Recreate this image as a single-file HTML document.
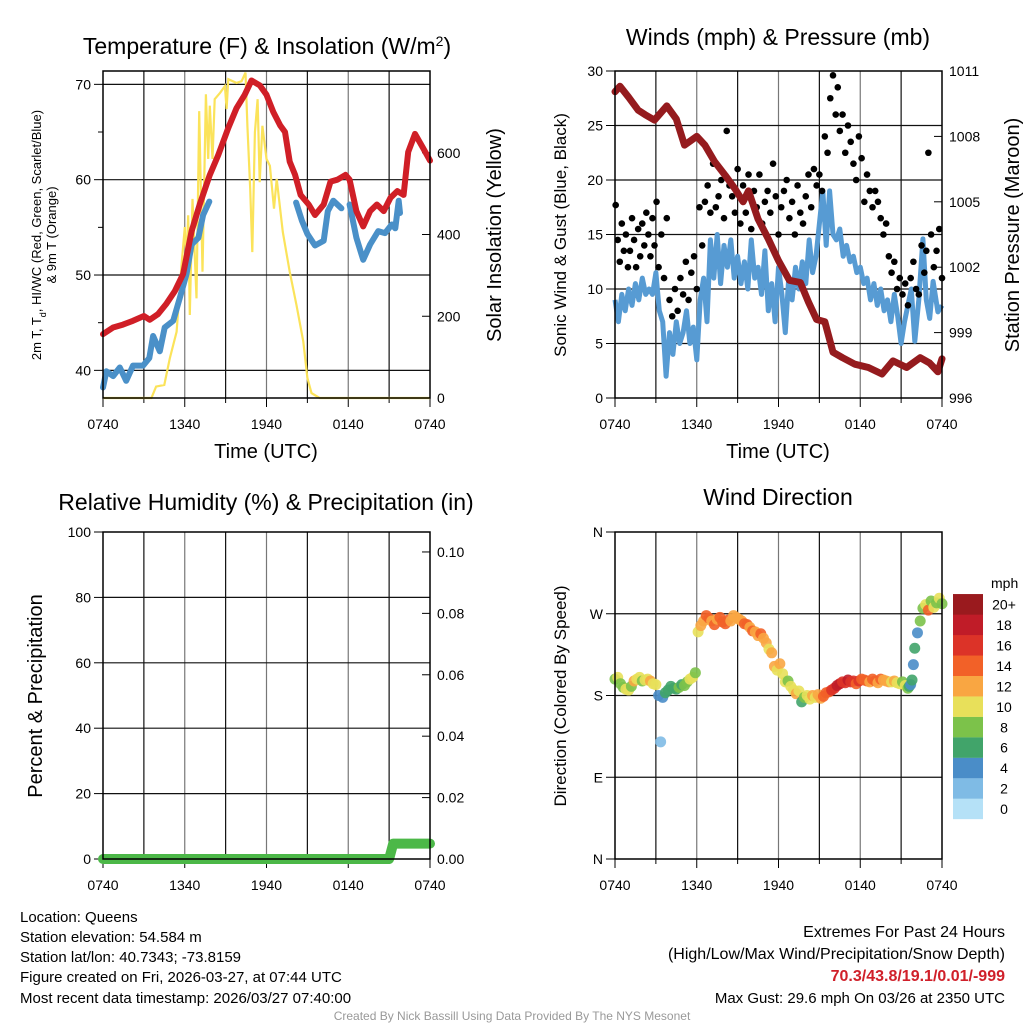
<!DOCTYPE html>
<html><head><meta charset="utf-8"><style>
html,body{margin:0;padding:0;background:#fff;}
svg{display:block;font-family:"Liberation Sans",Arial,sans-serif;}
</style></head><body>
<svg id="fig" width="1024" height="1024" viewBox="0 0 1024 1024" xmlns="http://www.w3.org/2000/svg">
<rect width="1024" height="1024" fill="#fff"/>
<g id="layer"></g>
<text x="267" y="54" font-size="23" text-anchor="middle">Temperature (F) &amp; Insolation (W/m<tspan baseline-shift="super" font-size="14">2</tspan>)</text>
<text x="778" y="45" font-size="23" text-anchor="middle">Winds (mph) &amp; Pressure (mb)</text>
<text x="266" y="510" font-size="23" text-anchor="middle">Relative Humidity (%) &amp; Precipitation (in)</text>
<text x="778" y="505" font-size="23" text-anchor="middle">Wind Direction</text>
<text transform="translate(41,235) rotate(-90)" font-size="13" text-anchor="middle">2m T, T<tspan baseline-shift="sub" font-size="9">d</tspan>, HI/WC (Red, Green, Scarlet/Blue)</text>
<text transform="translate(56,235) rotate(-90)" font-size="13" text-anchor="middle">&amp; 9m T (Orange)</text>
<text transform="translate(501,235) rotate(-90)" font-size="20" text-anchor="middle">Solar Insolation (Yellow)</text>
<text transform="translate(566,235) rotate(-90)" font-size="17" text-anchor="middle">Sonic Wind &amp; Gust (Blue, Black)</text>
<text transform="translate(1019,235) rotate(-90)" font-size="20" text-anchor="middle">Station Pressure (Maroon)</text>
<text transform="translate(42,696) rotate(-90)" font-size="20" text-anchor="middle">Percent &amp; Precipitation</text>
<text transform="translate(566,696) rotate(-90)" font-size="17" text-anchor="middle">Direction (Colored By Speed)</text>
<text x="266" y="458" font-size="20" text-anchor="middle">Time (UTC)</text>
<text x="778" y="458" font-size="20" text-anchor="middle">Time (UTC)</text>
<g font-size="15">
<text x="20" y="922">Location: Queens</text>
<text x="20" y="942">Station elevation: 54.584 m</text>
<text x="20" y="962">Station lat/lon: 40.7343; -73.8159</text>
<text x="20" y="982">Figure created on Fri, 2026-03-27, at 07:44 UTC</text>
<text x="20" y="1003">Most recent data timestamp: 2026/03/27 07:40:00</text>
</g>
<g font-size="16" text-anchor="end">
<text x="1005" y="937">Extremes For Past 24 Hours</text>
<text x="1005" y="959">(High/Low/Max Wind/Precipitation/Snow Depth)</text>
<text x="1005" y="981" fill="#d0202a" font-weight="bold">70.3/43.8/19.1/0.01/-999</text>
<text x="1005" y="1003" font-size="15">Max Gust: 29.6 mph On 03/26 at 2350 UTC</text>
</g>
<text x="512" y="1020" font-size="12" fill="#999" text-anchor="middle">Created By Nick Bassill Using Data Provided By The NYS Mesonet</text>
</svg>
<script>
// ---------- data ----------
const timeTicks = ["0740","1340","1940","0140","0740"];
const tempH = [0,0.74,1.47,2.2,3.0,3.43,4.04,4.66,5.27,5.88,6.5,7.1,7.84,8.46,9.19,9.8,10.4,10.9,11.5,12.0,12.5,13.0,13.36,13.7,14.1,14.5,15.1,15.56,16.2,16.7,17.2,17.8,18.1,18.6,19.1,19.6,20.1,20.6,21.1,21.6,22.06,22.4,22.9,23.5,24];
const tempV = [43.8,44.5,44.8,45.2,45.7,45.3,45.9,47.0,48.3,50.1,54.6,57.4,60.5,62.6,65.4,67.5,68.9,70.4,69.9,68.9,67.1,65.7,65.0,61.9,60.5,58.4,57.4,56.3,57.4,59.8,60.0,60.5,60.0,56.7,55.1,56.7,57.4,56.7,58.1,58.8,58.4,62.9,64.8,63.3,62.0];
const dewH = [0,0.25,0.74,1.23,1.7,2.2,2.94,3.4,3.68,4.17,4.53,5.15,5.64,6.13,6.5,7.0,7.35,7.8,null,14.17,14.6,15.0,15.56,16.2,16.5,16.9,17.5,null,18.1,18.6,19.1,19.6,20.2,20.7,21.2,21.45,21.7,21.8];
const dewV = [38.2,39.9,39.4,40.3,38.9,40.5,40.5,41.3,43.6,42.0,44.5,45.2,47.6,50.1,53.2,53.9,56.3,57.7,null,57.6,55.7,54.3,53.1,53.6,56.7,57.8,57.0,null,57.4,53.9,51.6,53.2,54.6,54.4,55.3,54.9,57.8,56.5];
const solarH = [0,3.55,3.9,4.5,4.9,5.4,5.76,6.0,6.13,6.25,6.37,6.57,6.86,7.06,7.3,7.55,7.72,7.84,8.04,8.2,8.6,8.95,9.07,9.2,9.8,10.17,10.46,10.6,10.8,10.96,11.15,11.35,11.5,11.7,12.0,12.25,12.55,12.75,13.2,13.7,14.2,14.7,15.0,15.3,15.9,24];
const solarV = [0,0,28,32,97,162,325,418,325,447,203,487,244,702,309,743,585,715,585,731,747,763,707,780,771,775,796,666,512,357,650,731,528,666,585,568,463,536,406,309,227,138,49,12,0,0];
const windH = [0,0.25,0.5,0.75,1,1.25,1.5,1.75,2,2.25,2.5,2.75,3,3.25,3.5,3.75,4,4.25,4.5,4.75,5,5.25,5.5,5.75,6,6.25,6.5,6.75,7,7.25,7.5,7.75,8,8.25,8.5,8.75,9,9.25,9.5,9.75,10,10.25,10.5,10.75,11,11.25,11.5,11.75,12,12.25,12.5,12.75,13,13.25,13.5,13.75,14,14.25,14.5,14.75,15,15.25,15.5,15.75,16,16.25,16.5,16.75,17,17.25,17.5,17.75,18,18.25,18.5,18.75,19,19.25,19.5,19.75,20,20.25,20.5,20.75,21,21.25,21.5,21.75,22,22.3,22.6,22.85,23.1,23.35,23.7,24];
const windV = [9,7,9.5,8,10,8.5,10.5,9,11,9.5,10,9.5,11.5,8,7,2,6,4,7,5,6,8,5,6.5,3.5,9,11,7,14.5,11,15,10.5,14,12,14.5,11,13,10.5,12.5,10,14.5,11,12,9.5,13.5,8,10.5,7,12,9.5,6,11,9,12,10,12.5,10.5,14.5,11.5,13,16,19,14,19,15,14.5,15.5,13,14,12.5,13,11.5,12,10.5,11,9,10.5,8.5,10,8,9,7,9.5,7.5,5,7,8.5,10,5.2,9,14.6,9,7.3,10.7,7.9,8.5];
const gustH = [0.05,0.2,0.35,0.5,0.65,0.8,0.95,1.1,1.25,1.4,1.55,1.7,1.85,2.0,2.15,2.3,2.45,2.6,2.75,2.9,3.05,3.2,3.4,3.6,3.8,4.0,4.2,4.4,4.6,4.8,5.0,5.2,5.4,5.6,5.8,6.0,6.2,6.4,6.6,6.8,7.0,7.2,7.4,7.6,7.8,8.0,8.2,8.4,8.6,8.8,9.0,9.2,9.4,9.6,9.8,10.0,10.2,10.4,10.6,10.8,11.0,11.2,11.4,11.6,11.8,12.0,12.2,12.4,12.6,12.8,13.0,13.2,13.4,13.6,13.8,14.0,14.2,14.4,14.6,14.8,15.0,15.2,15.4,15.6,15.8,16.0,16.2,16.35,16.5,16.7,16.9,17.1,17.3,17.5,17.7,17.9,18.1,18.3,18.5,18.7,18.9,19.1,19.3,19.5,19.7,19.9,20.1,20.3,20.5,20.7,20.9,21.1,21.3,21.5,21.7,21.9,22.1,22.3,22.5,22.7,22.85,23.0,23.2,23.4,23.6,23.8,24.0];
const gustV = [17.7,14.5,12.5,16,13.5,15,12,13.5,16.5,14.5,12,15.5,13,16,14,17,15,13,16.5,14,18,12,15,11,16.5,9,7.5,10,8,11,9.5,12.5,9,11.5,13,10,17.5,14,18,19.5,17,21.5,17.5,18.5,20,16.5,24.5,19.5,18.5,17,21,16,19.5,17,20.5,15.5,19,17.5,20.5,16,18,19,17,21.5,18.5,15,17.5,19,20,16.5,18,15,19.5,17,16,18.5,20.5,17.5,21,19.5,20.5,19,24,22.5,27.5,29.6,26,28.5,24.5,26,22.5,25,23.5,21.5,20,24,22,18,20.5,19,17.5,19,18,16.5,15,16,13,11.5,12.5,10,11,9.5,10.5,8.5,11,12.5,10,9.5,14,11.5,13.5,22.5,15,12,13.5,15.5,11,12];
const presH = [0,0.37,1.0,1.7,2.2,2.9,3.8,4.5,5.1,6.0,6.6,7.3,8.1,8.8,9.4,9.8,10.5,11.25,12.0,12.8,13.6,14.2,14.8,15.4,16.0,16.7,17.6,18.6,19.6,20.4,21.4,22.4,23.1,23.7,24];
const presV = [1010.05,1010.3,1009.8,1009.2,1009.0,1008.75,1009.4,1008.8,1007.6,1008.0,1007.6,1006.85,1006.2,1005.6,1005.0,1005.5,1004.2,1003.3,1002.3,1001.4,1001.3,1000.4,999.6,999.5,998.1,997.85,997.55,997.4,997.1,997.7,997.4,997.85,997.6,997.2,997.8];
const precipH = [0,21.0,21.3,24];
const precipV = [0,0,0.005,0.005];
const dirH = [0,0.2,0.4,0.6,0.8,1.0,1.2,1.4,1.6,1.8,2.0,2.2,2.4,2.6,2.8,3.0,3.2,3.35,3.5,3.7,3.9,4.1,4.3,4.5,4.7,4.9,5.1,5.3,5.5,5.7,5.9,6.1,6.3,6.5,6.7,6.9,7.1,7.3,7.5,7.7,7.9,8.1,8.3,8.5,8.7,8.9,9.1,9.3,9.5,9.7,9.9,10.1,10.3,10.5,10.7,10.9,11.1,11.3,11.5,11.7,11.9,12.1,12.3,12.5,12.7,12.9,13.1,13.3,13.5,13.7,13.9,14.1,14.3,14.5,14.7,14.9,15.1,15.3,15.5,15.7,15.9,16.1,16.3,16.5,16.7,16.9,17.1,17.3,17.5,17.7,17.9,18.1,18.3,18.5,18.7,18.9,19.1,19.3,19.5,19.7,19.9,20.1,20.3,20.5,20.7,20.9,21.1,21.3,21.5,21.6,21.7,21.8,21.9,22.0,22.2,22.4,22.6,22.8,23.0,23.2,23.4,23.6,23.8,24.0];
const dirV = [198,200,193,189,187,186,190,196,198,200,196,197,198,196,193,192,180,129,178,183,186,190,188,187,189,192,191,195,198,200,205,250,257,262,268,265,262,258,264,266,261,259,263,262,268,266,264,262,259,258,255,251,250,246,248,243,238,231,227,212,208,215,204,195,196,190,186,182,185,173,178,180,176,180,178,181,177,179,183,184,186,188,191,193,195,194,197,195,196,193,196,198,197,196,195,198,196,194,198,197,196,195,195,196,194,193,195,191,188,190,192,197,214,232,249,262,276,280,274,284,277,282,287,281,292];
const dirS = [8,10,8,8,10,10,8,12,10,10,8,10,10,12,10,10,4,2,4,6,6,6,6,6,8,6,8,8,10,10,8,10,12,12,14,14,12,14,12,14,14,14,14,12,12,12,12,12,14,14,12,14,12,12,14,12,12,10,12,12,10,12,10,10,8,10,10,12,10,6,8,10,10,12,10,12,12,14,14,14,16,16,18,18,16,16,18,16,16,14,16,14,14,14,12,14,14,12,14,12,12,12,10,12,10,10,8,10,8,6,4,6,4,6,4,8,8,10,14,8,10,8,10,8,8];
const cbarLabels = ["0","2","4","6","8","10","12","14","16","18","20+"];
const cbarColors = ["#b5e1f7","#7fbbe5","#4a8dc8","#41a46a","#7cc24a","#e8e05a","#f9a642","#f26128","#dc3328","#c01c28","#9a1a1e"];

// ---------- helpers ----------
const NS = "http://www.w3.org/2000/svg";
const layer = document.getElementById('layer');
function el(tag, parent){ const e = document.createElementNS(NS, tag); parent.appendChild(e); return e; }
function scale(d0,d1,r0,r1){ return v => r0 + (v-d0)/(d1-d0)*(r1-r0); }
function linePath(hs, vs, sx, sy){
  let d = "", pen = false;
  for (let i=0;i<hs.length;i++){
    if (hs[i]===null || vs[i]===null){ pen=false; continue; }
    d += (pen?"L":"M") + sx(hs[i]).toFixed(1) + "," + sy(vs[i]).toFixed(1);
    pen = true;
  }
  return d;
}
function colorFor(s){ let i = Math.min(10, Math.max(0, Math.floor(s/2))); return cbarColors[i]; }

function panel(name, x0, x1, y0, y1, leftTicks, leftLabels, ld0, ld1, leftMinor, rightTicks, rightLabels, rd0, rd1){
  const g = el('g', layer);
  
  
  const sx = scale(0, 24, x0, x1);
  const syL = scale(ld0, ld1, y1, y0);
  const syR = rd0 !== null ? scale(rd0, rd1, y1, y0) : null;
  const grid = el('g', g);
  
  
  for (let h=3; h<24; h+=3){
    const l = el('line', grid);
    l.setAttribute('x1', sx(h)); l.setAttribute('x2', sx(h));
    l.setAttribute('y1', y0); l.setAttribute('y2', y1);
    l.setAttribute('stroke', h%6===0 ? '#777' : '#111'); l.setAttribute('stroke-width', '1.2');
  }
  leftTicks.forEach(v => {
    const y = syL(v);
    if (y > y0+1 && y < y1-1){
      const l = el('line', grid);
      l.setAttribute('x1', x0); l.setAttribute('x2', x1);
      l.setAttribute('y1', y); l.setAttribute('y2', y);
      l.setAttribute('stroke', '#111'); l.setAttribute('stroke-width', '1.2');
    }
  });
  const la = el('g', g);
  
  
  leftTicks.forEach((v,i) => {
    const y = syL(v);
    const t = el('line', la);
    t.setAttribute('x1', x0-9); t.setAttribute('x2', x0); t.setAttribute('y1', y); t.setAttribute('y2', y);
    t.setAttribute('stroke', '#000');
    const tx = el('text', la);
    tx.setAttribute('x', x0-12); tx.setAttribute('y', y+5);
    tx.setAttribute('font-size', '14'); tx.setAttribute('text-anchor', 'end');
    tx.textContent = leftLabels[i];
  });
  leftMinor.forEach(v => {
    const t = el('line', la);
    t.setAttribute('x1', x0-5); t.setAttribute('x2', x0); t.setAttribute('y1', syL(v)); t.setAttribute('y2', syL(v));
    t.setAttribute('stroke', '#000');
  });
  if (syR){
    const ra = el('g', g);
    
    
    rightTicks.forEach((v,i) => {
      const y = syR(v);
      const t = el('line', ra);
      t.setAttribute('x1', x1-8); t.setAttribute('x2', x1); t.setAttribute('y1', y); t.setAttribute('y2', y);
      t.setAttribute('stroke', '#000');
      const tx = el('text', ra);
      tx.setAttribute('x', x1+7); tx.setAttribute('y', y+5);
      tx.setAttribute('font-size', '14');
      tx.textContent = rightLabels[i];
    });
  }
  const xa = el('g', g);
  
  
  for (let h=0; h<=24; h+=3){
    const t = el('line', xa);
    t.setAttribute('x1', sx(h)); t.setAttribute('x2', sx(h));
    t.setAttribute('y1', y1); t.setAttribute('y2', y1 + (h%6===0?9:5));
    t.setAttribute('stroke', '#000');
  }
  timeTicks.forEach((lab,i) => {
    const tx = el('text', xa);
    tx.setAttribute('x', sx(i*6)); tx.setAttribute('y', y1+31);
    tx.setAttribute('font-size', '14'); tx.setAttribute('text-anchor', 'middle');
    tx.textContent = lab;
  });
  const plot = el('g', g);
  
  
  const frame = el('rect', g);
  
  
  frame.setAttribute('x', x0); frame.setAttribute('y', y0);
  frame.setAttribute('width', x1-x0); frame.setAttribute('height', y1-y0);
  frame.setAttribute('fill', 'none'); frame.setAttribute('stroke', '#000'); frame.setAttribute('stroke-width', '1.5');
  return {plot, sx, syL, syR};
}

// ---------- panel 1 ----------
const p1 = panel('temperature-panel', 103, 430, 71, 398, [40,50,60,70], ["40","50","60","70"], 37.1, 71.4, [45,55,65],
  [0,200,400,600], ["0","200","400","600"], 0, 800);
const solar = el('path', p1.plot);


solar.setAttribute('d', linePath(solarH, solarV, p1.sx, p1.syR));
solar.setAttribute('fill', 'none'); solar.setAttribute('stroke', '#fbe35a'); solar.setAttribute('stroke-width', '2.2');
const dew = el('path', p1.plot);


dew.setAttribute('d', linePath(dewH, dewV, p1.sx, p1.syL));
dew.setAttribute('fill', 'none'); dew.setAttribute('stroke', '#4a90c8'); dew.setAttribute('stroke-width', '6'); dew.setAttribute('stroke-linejoin', 'round'); dew.setAttribute('stroke-linecap', 'round');
const temp = el('path', p1.plot);


temp.setAttribute('d', linePath(tempH, tempV, p1.sx, p1.syL));
temp.setAttribute('fill', 'none'); temp.setAttribute('stroke', '#d01f27'); temp.setAttribute('stroke-width', '6'); temp.setAttribute('stroke-linejoin', 'round'); temp.setAttribute('stroke-linecap', 'round');

// ---------- panel 2 ----------
const p2 = panel('winds-panel', 615, 942, 71, 398, [0,5,10,15,20,25,30], ["0","5","10","15","20","25","30"], 0, 30, [],
  [996,999,1002,1005,1008,1011], ["996","999","1002","1005","1008","1011"], 996, 1011);
const wind = el('path', p2.plot);


wind.setAttribute('d', linePath(windH, windV, p2.sx, p2.syL));
wind.setAttribute('fill', 'none'); wind.setAttribute('stroke', '#579bd3'); wind.setAttribute('stroke-width', '5'); wind.setAttribute('stroke-linejoin', 'round');
for (let i=0;i<gustH.length;i++){
  const c = el('circle', p2.plot);
  
  
  c.setAttribute('cx', p2.sx(gustH[i])); c.setAttribute('cy', p2.syL(gustV[i])); c.setAttribute('r', '3.3'); c.setAttribute('fill', '#000');
}
const pres = el('path', p2.plot);


pres.setAttribute('d', linePath(presH, presV, p2.sx, p2.syR));
pres.setAttribute('fill', 'none'); pres.setAttribute('stroke', '#951b1e'); pres.setAttribute('stroke-width', '7'); pres.setAttribute('stroke-linejoin', 'round'); pres.setAttribute('stroke-linecap', 'round');

// ---------- panel 3 ----------
const p3 = panel('humidity-panel', 103, 430, 532, 859, [0,20,40,60,80,100], ["0","20","40","60","80","100"], 0, 100, [],
  [0,0.02,0.04,0.06,0.08,0.10], ["0.00","0.02","0.04","0.06","0.08","0.10"], 0, 0.1065);
const precip = el('path', p3.plot);


precip.setAttribute('d', linePath(precipH, precipV, p3.sx, p3.syR));
precip.setAttribute('fill', 'none'); precip.setAttribute('stroke', '#4cb848'); precip.setAttribute('stroke-width', '10'); precip.setAttribute('stroke-linejoin', 'round'); precip.setAttribute('stroke-linecap', 'round');

// ---------- panel 4 ----------
const p4 = panel('wind-direction-panel', 615, 942, 532, 859, [0,90,180,270,360], ["N","E","S","W","N"], 0, 360, [],
  [], [], null, null);
for (let i=0;i<dirH.length;i++){
  const c = el('circle', p4.plot);
  
  
  c.setAttribute('cx', p4.sx(dirH[i])); c.setAttribute('cy', p4.syL(dirV[i])); c.setAttribute('r', '5.5');
  c.setAttribute('fill', colorFor(dirS[i])); c.setAttribute('fill-opacity', '0.9');
}
const cb = el('g', layer);


const cbt = el('text', cb);


cbt.setAttribute('x', '991'); cbt.setAttribute('y', '588'); cbt.setAttribute('font-size', '14');
cbt.textContent = 'mph';
for (let i=0;i<cbarColors.length;i++){
  const y = 819 - (i+1)*20.45;
  const r = el('rect', cb);
  
  
  r.setAttribute('x', '953'); r.setAttribute('y', y); r.setAttribute('width', '30'); r.setAttribute('height', '20.6');
  r.setAttribute('fill', cbarColors[i]);
  const t = el('text', cb);
  
  
  t.setAttribute('x', '1004'); t.setAttribute('y', y+15.5); t.setAttribute('font-size', '14'); t.setAttribute('text-anchor', 'middle');
  t.textContent = cbarLabels[i];
}
</script>
</body></html>
